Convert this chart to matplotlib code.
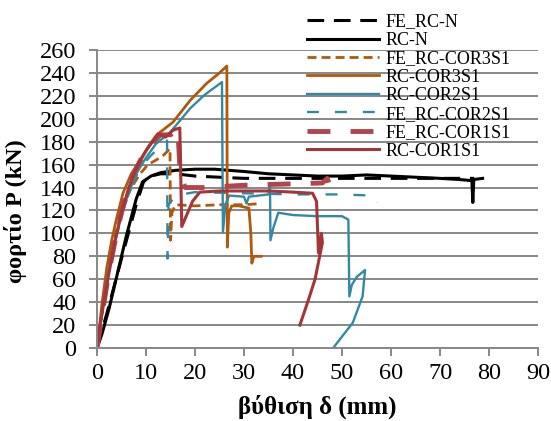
import matplotlib
matplotlib.use("Agg")
import matplotlib.pyplot as plt

plt.rcParams['lines.scale_dashes'] = False
plt.rcParams['font.family'] = ['Liberation Serif', 'DejaVu Serif']

# load-deflection curves, x = deflection (mm), y = load (kN)
fe_rc_n_x = [0, 2, 5, 8, 9.5, 11, 13, 16, 20, 25, 30, 40, 50, 60, 70, 77]
fe_rc_n_y = [0, 30, 78, 125, 145, 150, 152, 152, 150, 149, 148, 148, 148, 148, 148, 148]

rc_n_x = [0, 1, 2.5, 4, 6, 8, 9.3, 10, 11, 13, 16, 20, 24, 30, 35, 40, 45, 50,
          55, 60, 65, 70, 74, 76.5, 76.7, 76.9, 78.7]
rc_n_y = [0, 12, 35, 62, 98, 130, 145, 147, 150, 153, 155, 156, 156, 154, 152, 151,
          150, 150, 151, 150, 149, 148, 147, 146, 127, 147, 148]

fe_cor3_x = [0, 1, 3, 5, 7, 8.8, 10.4, 13.3, 14.9, 15, 15.3, 16, 20, 25, 30, 33.5]
fe_cor3_y = [0, 30, 85, 120, 140, 152, 160, 167, 174, 94, 118, 125, 124, 125, 125, 126]

rc_cor3_x = [0, 0.5, 1, 2, 3, 4, 5.3, 7, 8.8, 10.5, 12.2, 15.5, 19, 22.4, 25, 26.5,
             26.6, 26.9, 27.5, 29, 31, 31.4, 31.6, 32, 33.5]
rc_cor3_y = [0, 18, 38, 70, 94, 113, 135, 152, 164, 176, 186, 197, 216, 231, 240, 246,
             88, 118, 124, 124, 122, 100, 74, 80, 80]

rc_cor2_x = [0, 1, 2, 3, 4.5, 6, 8, 10, 12, 14.9, 19, 22, 25.5, 25.7, 26.2, 27, 30,
             30.5, 31, 35, 35.3, 35.4, 36, 37, 40, 45, 50, 51.3, 51.5, 52, 53, 54.7,
             54.2, 52.2, 50, 48.2]
rc_cor2_y = [0, 30, 58, 82, 108, 130, 152, 166, 178, 188, 209, 221, 232, 101, 125, 133,
             132, 126, 132, 134, 144, 94, 105, 118, 116, 115, 115, 112, 45, 55, 62, 68,
             45, 22, 10, 0]

fe_cor2_x = [0, 1, 3, 5, 7, 9, 11, 13, 14.3, 14.4, 14.6, 16, 20, 30, 40, 50, 56, 57, 57.2]
fe_cor2_y = [0, 28, 80, 115, 142, 158, 168, 176, 181, 78, 125, 133, 136, 135, 134, 134,
             133, 131, 127]

fe_cor1_x = [0, 1, 2.5, 4, 5.5, 7, 9, 11, 13, 15, 16.5, 17, 18, 22, 30, 38, 46, 47, 47.5]
fe_cor1_y = [0, 28, 68, 100, 127, 148, 165, 178, 186, 186, 191, 150, 140, 140, 142,
             143, 144, 148, 142]

rc_cor1_x = [0, 0.8, 2, 3.5, 5, 6.5, 8, 10, 12.5, 14, 15.5, 16.9, 17.3, 18, 19.5, 21,
             25, 30, 35, 40, 44, 44.8, 45.2, 45.8, 46, 44.5, 43, 41.4]
rc_cor1_y = [0, 25, 55, 90, 118, 140, 157, 172, 187, 184, 190, 192, 106, 113, 128, 136,
             137, 137, 137, 136, 135, 128, 83, 100, 92, 60, 40, 20]

black = "black"
orange = "#B0580C"
teal = "#3389A3"
red = "#A3363B"
red_fe = "#B0454B"

fig = plt.figure(figsize=(5.51, 4.21), dpi=100)
ax = fig.add_axes([97 / 551, 1 - 348 / 421, 441 / 551, 298 / 421])

lines = []
lines += ax.plot(fe_rc_n_x, fe_rc_n_y, color=black, lw=2.2, dashes=(12, 7), label="FE_RC-N")
lines += ax.plot(rc_n_x, rc_n_y, color=black, lw=2.2, label="RC-N")
lines += ax.plot(fe_cor3_x, fe_cor3_y, color=orange, lw=2.0, dashes=(6.5, 3.6), label="FE_RC-COR3S1")
lines += ax.plot(rc_cor3_x, rc_cor3_y, color=orange, lw=2.0, label="RC-COR3S1")
lines += ax.plot(rc_cor2_x, rc_cor2_y, color=teal, lw=1.7, label="RC-COR2S1")
lines += ax.plot(fe_cor2_x, fe_cor2_y, color=teal, lw=1.7, dashes=(8.6, 11.5), label="FE_RC-COR2S1")
lines += ax.plot(fe_cor1_x, fe_cor1_y, color=red_fe, lw=3.5, dashes=(16.5, 14.5), label="FE_RC-COR1S1")
lines += ax.plot(rc_cor1_x, rc_cor1_y, color=red, lw=2.2, label="RC-COR1S1")

ax.set_xlim(0, 90)
ax.set_ylim(0, 260)
ax.set_xticks(range(0, 91, 10))
ax.set_yticks(range(0, 261, 20))
ax.yaxis.grid(True, color="#878787", lw=1.4)
ax.set_axisbelow(True)
for s in ["top", "right"]:
    ax.spines[s].set_visible(False)
for s in ["left", "bottom"]:
    ax.spines[s].set_color("#878787")
    ax.spines[s].set_linewidth(1.4)
ax.tick_params(axis="both", direction="out", length=6, width=1.4, color="#878787",
               labelsize=17.5)
ax.tick_params(axis="y", pad=9)
ax.tick_params(axis="x", pad=5)

ax.set_xlabel("βύθιση δ (mm)", fontsize=18, fontweight="bold")
ax.xaxis.set_label_coords(0.5, -0.155)
ax.set_ylabel("φορτίο P (kN)", fontsize=17.5, fontweight="bold")
ax.yaxis.set_label_coords(-0.158, 0.46)

fig.legend(handles=lines, loc="upper left", bbox_to_anchor=(307 / 551, 0.968),
           frameon=False, fontsize=13, handlelength=4.0, handletextpad=0.35,
           labelspacing=0.08, borderpad=0, borderaxespad=0)

fig.savefig("out.png", dpi=100)
